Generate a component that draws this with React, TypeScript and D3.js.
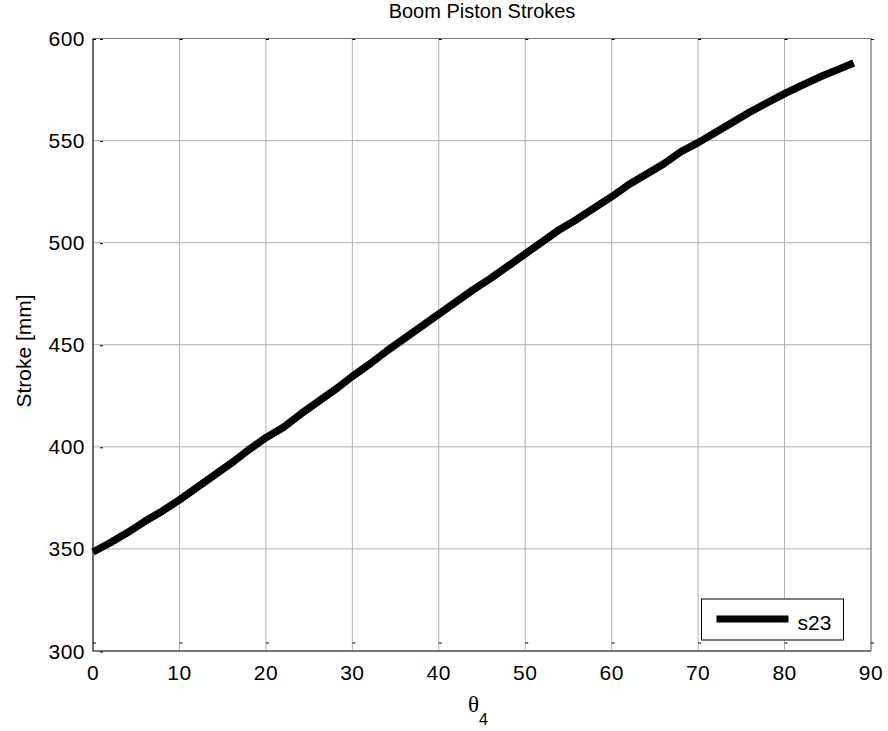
import { useEffect, useRef } from "react";
import * as d3 from "d3";

// theta4 angles (deg) and boom piston stroke s23 (mm)
const theta = [
  0, 2, 4, 6, 8, 10, 12, 14, 16, 18, 20, 22, 24, 26, 28, 30, 32, 34, 36, 38, 40, 42, 44,
  46, 48, 50, 52, 54, 56, 58, 60, 62, 64, 66, 68, 70, 72, 74, 76, 78, 80, 82, 84, 86, 88,
];
const s23 = [
  348.5, 353, 358, 363.5, 368.5, 374, 380, 386, 392, 398.5, 404.5, 409.5, 416, 422, 428,
  434.5, 440.5, 447, 453, 459, 465, 471, 477, 482.5, 488.5, 494.5, 500.5, 506.5, 511.5,
  517, 522.5, 528.5, 533.5, 538.5, 544.5, 549, 554, 559, 564, 568.5, 573, 577, 581,
  584.5, 588,
];
const xTicks = [0, 10, 20, 30, 40, 50, 60, 70, 80, 90];
const yTicks = [300, 350, 400, 450, 500, 550, 600];

const App = () => {
  const svgRef = useRef<SVGSVGElement>(null);

  useEffect(() => {
    const W = 888;
    const H = 731;
    const margin = { top: 38.5, right: 17, bottom: 80, left: 93 };
    const width = W - margin.left - margin.right;
    const height = H - margin.top - margin.bottom;
    const font = "'Liberation Sans', Arial, sans-serif";

    d3.select(svgRef.current).selectAll("*").remove();

    const root = d3
      .select(svgRef.current)
      .attr("width", W)
      .attr("height", H)
      .style("position", "absolute")
      .style("left", "0px")
      .style("top", "0px")
      .style("display", "block")
      .style("background", "white");

    const svg = root
      .append("g")
      .attr("transform", `translate(${margin.left},${margin.top})`);

    const x = d3.scaleLinear().domain([0, 90]).range([0, width]);
    const y = d3.scaleLinear().domain([300, 600]).range([height, 0]);

    // gridlines
    svg
      .append("g")
      .selectAll("line")
      .data(xTicks)
      .enter()
      .append("line")
      .attr("x1", (d) => x(d))
      .attr("x2", (d) => x(d))
      .attr("y1", 0)
      .attr("y2", height)
      .attr("stroke", "#b0b0b0")
      .attr("stroke-width", 1);

    svg
      .append("g")
      .selectAll("line")
      .data(yTicks)
      .enter()
      .append("line")
      .attr("x1", 0)
      .attr("x2", width)
      .attr("y1", (d) => y(d))
      .attr("y2", (d) => y(d))
      .attr("stroke", "#b0b0b0")
      .attr("stroke-width", 1);

    // box
    svg
      .append("rect")
      .attr("width", width)
      .attr("height", height)
      .attr("fill", "none")
      .attr("stroke", "#777")
      .attr("stroke-width", 1);
    svg
      .append("path")
      .attr("d", `M0,0V${height}H${width}`)
      .attr("fill", "none")
      .attr("stroke", "#444")
      .attr("stroke-width", 1.2);

    // tiny tick marks (tips of inward ticks)
    xTicks.forEach((t) => {
      svg
        .append("line")
        .attr("x1", x(t))
        .attr("x2", x(t) + 3)
        .attr("y1", height - 8)
        .attr("y2", height - 8)
        .attr("stroke", "#000");
      svg
        .append("line")
        .attr("x1", x(t))
        .attr("x2", x(t) + 3)
        .attr("y1", 1)
        .attr("y2", 1)
        .attr("stroke", "#000");
    });
    yTicks.forEach((t) => {
      svg
        .append("line")
        .attr("x1", 7)
        .attr("x2", 10)
        .attr("y1", y(t) + 1)
        .attr("y2", y(t) + 1)
        .attr("stroke", "#000");
    });

    // tick labels
    svg
      .append("g")
      .selectAll("text")
      .data(xTicks)
      .enter()
      .append("text")
      .attr("x", (d) => x(d))
      .attr("y", height + 29)
      .attr("text-anchor", "middle")
      .attr("font-family", font)
      .attr("font-size", 21)
      .attr("letter-spacing", 0.5)
      .attr("fill", "#000")
      .text((d) => d);

    svg
      .append("g")
      .selectAll("text")
      .data(yTicks)
      .enter()
      .append("text")
      .attr("x", -8)
      .attr("y", (d) => y(d) + 7.5)
      .attr("text-anchor", "end")
      .attr("font-family", font)
      .attr("font-size", 21)
      .attr("letter-spacing", 0.5)
      .attr("fill", "#000")
      .text((d) => d);

    // data line
    const line = d3
      .line<number>()
      .x((_, i) => x(theta[i]))
      .y((d) => y(d));

    svg
      .append("path")
      .datum(s23)
      .attr("fill", "none")
      .attr("stroke", "#000")
      .attr("stroke-width", 7.5)
      .attr("stroke-linejoin", "round")
      .attr("d", line);

    // legend
    const lg = svg
      .append("g")
      .attr("transform", `translate(${701.5 - margin.left},${599 - margin.top})`);
    lg.append("rect")
      .attr("width", 142)
      .attr("height", 41)
      .attr("fill", "#fff")
      .attr("stroke", "#000")
      .attr("stroke-width", 1);
    lg.append("line")
      .attr("x1", 15)
      .attr("x2", 87)
      .attr("y1", 20)
      .attr("y2", 20)
      .attr("stroke", "#000")
      .attr("stroke-width", 7);
    lg.append("text")
      .attr("x", 96)
      .attr("y", 31)
      .attr("font-family", font)
      .attr("font-size", 21)
      .attr("fill", "#000")
      .text("s23");

    // title
    root
      .append("text")
      .attr("x", margin.left + width / 2)
      .attr("y", 18)
      .attr("text-anchor", "middle")
      .attr("font-family", font)
      .attr("font-size", 20)
      .attr("fill", "#000")
      .text("Boom Piston Strokes");

    // x label
    const xl = root
      .append("text")
      .attr("x", margin.left + width / 2 - 4)
      .attr("y", 712)
      .attr("text-anchor", "middle")
      .attr("font-family", "'Liberation Serif', 'DejaVu Serif', serif")
      .attr("font-size", 23)
      .attr("fill", "#000");
    xl.append("tspan").text("θ");
    xl.append("tspan")
      .attr("font-size", 16)
      .attr("font-family", font)
      .attr("dy", 13)
      .text("4");

    // y label
    root
      .append("text")
      .attr("transform", `translate(31,351) rotate(-90)`)
      .attr("text-anchor", "middle")
      .attr("font-family", font)
      .attr("font-size", 21)
      .attr("fill", "#000")
      .text("Stroke [mm]");
  }, []);

  return <svg ref={svgRef}></svg>;
};

export default App;
